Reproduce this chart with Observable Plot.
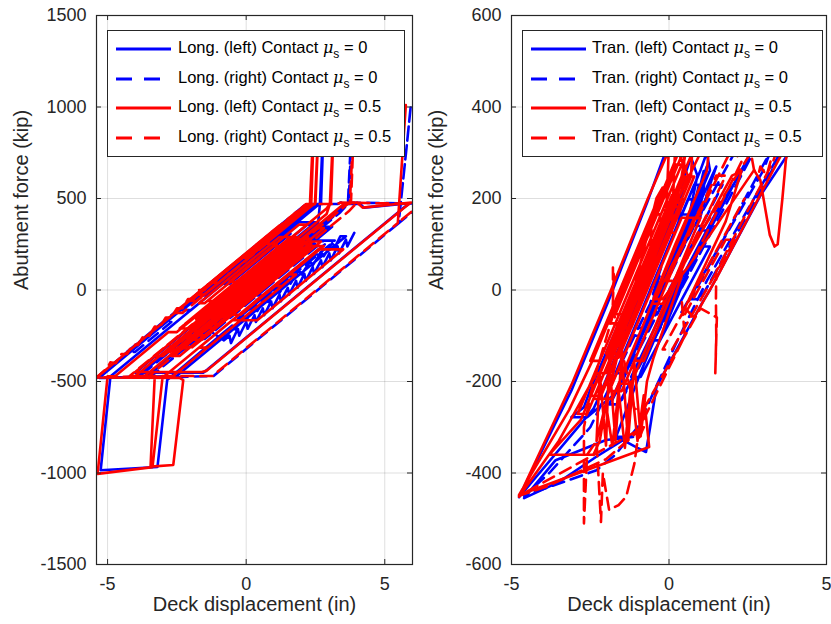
<!DOCTYPE html>
<html>
<head>
<meta charset="utf-8">
<script src="https://cdn.jsdelivr.net/npm/d3@7"></script>
<script src="https://cdn.jsdelivr.net/npm/@observablehq/plot@0.6"></script>
<style>
  body { margin: 0; background: #fff; font-family: "Liberation Sans", Arial, Helvetica, sans-serif; }
  #wrap { position: relative; width: 831px; height: 624px; overflow: hidden; background: #fff; }
  .panel { position: absolute; top: 0; }
  .legend { position: absolute; background: #fff; border: 1px solid #262626; box-sizing: border-box; color: #000; }
  .row { position: absolute; left: 0; height: 30px; width: 100%; }
  .row svg { position: absolute; left: 7px; top: 9px; }
  .row .lbl { position: absolute; top: 3px; font-size: 16.5px; white-space: nowrap; line-height: 20px; }
  .row .lbl i { font-family: "DejaVu Serif", serif; font-size: 16px; }
  .row .lbl sub { font-size: 12px; vertical-align: -5px; line-height: 0; }
</style>
</head>
<body>
<div id="wrap"></div>
<script>
// ---------------- Longitudinal panel (left) ----------------
const longXTicks = [-5, 0, 5];
const longYTicks = [-1500, -1000, -500, 0, 500, 1000, 1500];

// Long. (left) Contact, mu_s = 0  (blue solid)
const longLeftMu0 = [
  [0.1,0],[1.7,200],[2.0,200],[-0.8,-150],[-1.1,-150],[2.1,250],[2.4,250],[-1.4,-225],[-1.8,-225],
  [1.3,162],[1.6,162],[-2.3,-325],[-2.7,-325],[2.6,338],[2.9,338],[-3.56,-470],[-3.9,-470],
  [-1.3,-145],[-1.0,-145],[-2.5,-332],[-2.8,-332],[2.1,280],[2.4,280],[0.3,18],[0.0,18],
  [3.62,470],[4.1,472],[4.25,450],[5.9,474],[5.65,446],[-1.4,-435],[-1.55,-452],[-4.0,-452],
  [-2.0,-202],[-1.7,-202],[-3.0,-365],[-3.3,-365],[1.1,185],[1.4,185],[-0.4,-40],[-0.7,-40],
  [2.6,372],[2.66,470],[2.85,1150],[2.7,478],[2.4,440],[-2.0,-110],[-2.3,-110],[1.0,302],[1.3,302],
  [-3.0,-235],[-4.88,-470],[-4.9,-476],[-5.25,-985],[-3.2,-967],[-2.85,-492],[-0.8,-231],
  [-0.5,-194],[-0.4,-215],[-0.1,-144],[0.0,-165],[0.3,-94],[0.4,-115],[0.7,-44],[0.8,-65],
  [1.1,6],[1.2,-15],[1.5,56],[1.6,35],[1.9,106],[2.0,85],[2.3,156],[2.4,135],[2.7,206],[2.8,185],
  [3.1,256],[3.2,235],[3.4,294],[3.6,294],[0.0,-156],[-0.3,-156],[2.5,194],[2.8,194],[-2.51,-470],
  [-5.3,-480],[2.1,450],[2.5,470],[1.0,282],[0.7,282],[1.8,420],[2.1,420],[-0.5,95],
  [-1.5,-30],[-1.7,-30],[1.0,308],[1.6,308],[-0.6,33],[-0.8,33],[1.9,370],[2.5,370],[0.2,82],
  [0.0,82],[2.2,357],[2.8,357],[0.4,57],[0.2,57],[2.5,345],[3.1,345],[1.0,82],[0.8,82],[2.3,270],
  [-1.5,-205],[-0.8,-275],[-0.6,-250],[-0.55,-290],[-0.3,-212],[-0.25,-250],[0.0,-175],[0.05,-212],
  [0.3,-138],[0.35,-175],[0.6,-100],[0.65,-138],[0.9,-62],[0.95,-100],[1.2,-25],[1.25,-62],
  [1.5,12],[1.55,-25],[1.8,50],[1.85,12],[2.1,88],[2.15,50],[2.4,125],[2.45,88],[2.7,162],[2.75,125],
  [3.0,200],[3.05,162],[3.3,238],[3.35,200],[3.6,275],[3.65,238],[3.9,312]
];

// Long. (right) Contact, mu_s = 0  (blue dashed)
const longRightMu0 = [
  [0.2,0],[1.4,150],[1.7,150],[-0.7,-150],[-1.0,-150],[2.2,250],[2.5,250],[-1.3,-225],[-1.7,-225],
  [1.5,175],[1.8,175],[-2.2,-325],[-2.6,-325],[2.7,338],[3.0,338],[0.5,25],[0.2,25],[3.4,425],
  [3.67,470],[3.88,1150],[3.7,480],[3.45,440],[-1.0,-116],[-1.3,-116],[1.8,271],[2.1,271],
  [-3.83,-470],[-4.5,-478],[-5.4,-480],[-3.0,-175],[-2.7,-175],[-4.0,-338],[-4.3,-338],[0.5,262],
  [0.8,262],[-1.5,-25],[-1.8,-25],[2.16,470],[3.3,470],[3.4,478],[6.35,472],[6.1,440],[5.5,365],
  [5.8,800],[5.94,1010],[5.8,800],[5.5,365],[-0.95,-441],[-1.18,-470],[-3.5,-480],[0.5,20],[0.8,20],
  [-1.5,-268],[-1.8,-268],[2.5,270],[3.0,270],[0.6,-30],[0.4,-30],[2.8,270],[3.2,270],[0.2,-105],
  [0.0,-105],[2.0,145]
];

// Long. (left) Contact, mu_s = 0.5  (red solid)
const longLeftMu05 = [
  [0,0],[1.6,200],[1.9,200],[-0.9,-150],[-1.2,-150],[2.0,250],[2.3,250],[-1.5,-225],[-1.9,-225],
  [1.2,162],[1.5,162],[-2.4,-325],[-2.8,-325],[2.5,338],[2.8,338],[-3.66,-470],[-4.0,-470],
  [-1.4,-145],[-1.1,-145],[-2.6,-332],[-2.9,-332],[2.0,280],[2.3,280],[0.2,17],[-0.1,17],
  [3.52,470],[4.0,478],[4.2,450],[5.95,478],[5.7,450],[-1.44,-442],[-1.6,-448],[-4.0,-448],
  [-2.0,-198],[-1.7,-198],[-3.0,-360],[-3.3,-360],[1.0,178],[1.3,178],[-0.5,-48],[-0.8,-48],
  [2.9,415],[3.02,470],[3.22,1150],[3.06,480],[2.9,445],[-0.3,45],[-0.6,45],[1.9,357],[2.2,357],
  [-2.5,-230],[-2.8,-230],[-4.72,-470],[-5.0,-472],[-5.36,-1005],[-3.38,-968],[-3.02,-480],
  [1.5,85],[1.8,85],[-1.4,-315],[-1.7,-315],[2.6,222],[3.5,222],[0.4,-165],[-0.5,-165],[1.0,22],
  [1.3,22],[-2.64,-470],[-3.3,-475],[-3.45,-965],[-2.63,-956],[-2.27,-492],[-2.4,-480],[-5.4,-478],
  [2.16,467],[2.3,470],[2.5,1150],[2.35,480],[2.1,440],[0.0,176],[-0.1,176],[2.0,439],[2.48,470],
  [2.68,1150],[2.5,475],[2.2,440],[-1.0,40],[-1.3,40],[0.6,277],[0.9,277],[-1.8,-60],[-2.1,-60],
  [1.2,352],[1.5,352],[-0.6,90],[-1.8,-60],[-2.0,-60],[0.5,253],[1.1,253],[-1.5,-72],[-1.7,-72],
  [1.2,290],[1.8,290],[-1.2,-85],[-1.4,-85],[1.5,277],[2.1,277],[-1.0,-110],[-1.2,-110],[1.8,265],
  [2.4,265],[-0.8,-135],[-1.0,-135],[2.2,265],[2.7,265],[-0.6,-148],[-0.8,-148],[2.3,240],[2.8,240],
  [-0.2,-135],[-0.5,-135],[2.0,178],[-1.6,-272],[-2.0,-272],[0.8,78],[1.1,78],[-2.0,-310],[-2.3,-310],
  [-0.5,-85],[-0.2,-85],[-2.4,-360],[-2.7,-360],[0.3,15],[0.6,15],[-1.7,-272],[-2.0,-272],[0.9,90],
  [2.0,228],[2.3,228],[-1.5,-248],[-1.8,-248],[1.0,102],[1.3,102],[-1.0,-185],[-1.4,-185],[1.6,190],
  [1.8,190],[-1.8,-260],[-2.2,-260],[0.8,115],[1.0,115],[-0.8,-110],[-1.2,-110],[1.4,215],[1.6,215],
  [-1.4,-160],[-1.8,-160],[0.6,140],[0.8,140],[-2.0,-210],[-2.4,-210],[0.2,115],[0.4,115],[-1.0,-60],
  [-1.4,-60],[1.0,240],[1.2,240],[-2.2,-185]
];

// Long. (right) Contact, mu_s = 0.5  (red dashed)
const longRightMu05 = [
  [-0.1,0],[1.3,175],[1.6,175],[-1.0,-150],[-1.3,-150],[1.8,238],[2.1,238],[-1.8,-250],[-2.1,-250],
  [0.9,125],[1.2,125],[-2.5,-338],[-2.8,-338],[2.2,288],[3.66,470],[3.74,472],[3.95,1150],[3.78,478],
  [4.0,478],[3.7,430],[-1.0,-158],[-1.3,-158],[1.7,218],[2.0,218],[-3.5,-470],[-5.4,-478],
  [-5.0,-425],[-4.9,-395],[-4.7,-400],[-4.5,-350],[-4.3,-350],[-4.1,-300],[-3.9,-300],[-3.7,-250],
  [-3.5,-250],[-3.3,-200],[-3.1,-200],[-2.9,-150],[-2.7,-150],[-2.5,-100],[-2.3,-100],[-2.1,-50],
  [-1.9,-50],[-1.7,0],[-1.5,0],[-1.3,50],[-1.1,50],[-0.9,88],[-0.6,88],[-2.3,-125],[-2.6,-125],
  [0.5,262],[0.8,262],[-1.5,-25],[-1.8,-25],[2.16,470],[3.3,470],[3.4,478],[6.3,470],[6.1,445],
  [5.47,366],[5.62,700],[5.76,1010],[5.62,700],[5.47,366],[-1.22,-470],[-4.2,-470],[-1.0,-70],
  [-0.7,-70],[-2.6,-308],[-2.9,-308],[1.2,205],[1.5,205],[0.0,18],[-0.3,18],[1.6,255],[2.1,255],
  [-0.6,-82],[-0.8,-82],[1.9,255],[2.4,255],[-0.2,-70],[-0.5,-70],[1.4,168],[1.8,168],[-1.2,-207],
  [-1.5,-207],[0.7,55],[1.0,55],[-2.0,-320],[-2.3,-320],[0.2,-8]
];

// ---------------- Transverse panel (right) ----------------
const tranXTicks = [-5, 0, 5];
const tranYTicks = [-600, -400, -200, 0, 200, 400, 600];

// Tran. (left) Contact, mu_s = 0  (blue solid)
const tranLeftMu0 = [
  [-0.6,0],[0.4,165],[0.7,165],[-0.8,-83],[-1.1,-83],[0.6,198],[0.9,198],[-1.4,-182],[-1.7,-182],
  [0.3,148],[0.5,250],[0.7,290],[0.9,250],[0.6,148],[0.8,200],[0.75,170],[0.95,230],[0.9,200],
  [1.1,260],[1.0,230],[1.2,270],[1.05,200],[0.85,160],[0.95,150],[1.3,230],[1.5,270],[1.3,240],
  [-0.9,-100],[-1.2,-100],[0.8,230],[1.1,230],[-0.2,15],[-0.5,15],[1.0,262],[1.2,300],[1.3,262],
  [0.2,80],[-1.6,-220],[-2.6,-278],[-3.1,-278],[-2.7,-256],[-2.5,-218],[-1.2,-10],[0.1,200],
  [0.5,240],[0.3,190],[-0.9,-10],[-2.2,-230],[-2.4,-260],[-4.76,-453],[-3.1,-220],[-1.9,-20],
  [-0.7,190],[0.2,360],[0.4,400],[2.5,440],[4.55,405],[4.62,415],[4.5,395],[3.71,290],[2.9,206],
  [1.3,0],[1.1,-22],[-0.4,-212],[-0.6,-300],[-0.73,-354],[-1.0,-345],[-1.46,-328],[-2.32,-365],
  [-3.5,-420],[-4.6,-455],[-3.6,-372],[-2.0,-328],[-1.14,-321],[-1.68,-321],[-0.9,-180],[0.2,0],
  [1.5,170],[2.4,270],[2.6,300],[2.2,250],[0.6,40],[-0.3,-110],[-0.5,-110],[1.0,95],[1.3,95],
  [-0.9,-190],[-1.2,-190],[0.4,40],[0.6,40],[-1.6,-250],[-1.9,-250],[-0.44,-40],[-0.3,-5],
  [-0.32,-25],[-0.15,20],[-0.18,5],[0.0,45],[-0.02,25],[0.15,70],[0.12,50],[0.3,95],[0.27,75],
  [0.45,120],[0.42,100],[0.6,145],[0.57,125],[0.75,170],[0.72,150],[0.9,195],[0.87,175],[1.05,220]
];

// Tran. (right) Contact, mu_s = 0  (blue dashed)
const tranRightMu0 = [
  [-0.2,0],[0.8,140],[1.1,140],[-0.3,-40],[-0.6,-40],[1.4,230],[1.7,230],[0.0,0],[-0.3,0],
  [2.0,290],[2.3,320],[2.6,290],[0.6,30],[-0.8,-150],[-1.1,-150],[1.0,130],[1.3,130],[-0.5,-110],
  [-1.5,-240],[-1.8,-240],[-0.4,-50],[-0.5,-20],[-0.3,30],[-0.45,0],[-0.25,50],[-0.6,-30],
  [-2.5,-300],[-3.8,-400],[-4.6,-450],[-2.3,-394],[-1.7,-360],[-1.0,-300],[0.2,-120],[1.2,20],
  [3.45,290],[3.7,320],[3.5,290],[1.0,-20],[0.7,-20],[2.9,262],[3.2,300],[3.0,262],[0.3,-60]
];

// Tran. (left) Contact, mu_s = 0.5  (red solid)
const tranLeftMu05 = [
  [-1.0,0],[0.2,198],[0.5,198],[-1.2,-83],[-1.5,-83],[0.5,248],[0.8,248],[-1.6,-148],[-1.9,-148],
  [-0.1,149],[0.0,320],[0.15,440],[0.2,320],[0.1,149],[-1.5,-115],[-1.8,-115],[0.0,182],[0.3,182],
  [-2.2,-231],[-2.5,-231],[0.4,248],[0.6,330],[0.7,440],[0.75,330],[0.7,248],[-0.9,-17],[-1.2,-17],
  [-0.6,82],[-0.55,145],[-0.45,170],[-0.3,165],[-0.25,140],[-0.4,82],[-2.0,-182],[-2.3,-182],
  [-3.5,-330],[-4.76,-452],[-3.05,-200],[-1.84,0],[-0.67,200],[-0.1,290],[0.2,360],[0.3,420],
  [0.4,360],[0.5,260],[-1.4,-53],[-1.7,-53],[0.6,327],[0.9,327],[-2.8,-284],[-3.8,-360],[-2.4,-360],
  [-2.2,-330],[-2.0,-250],[-1.8,-340],[-1.6,-220],[-1.4,-345],[-1.2,-200],[-1.0,-330],[-0.8,-230],
  [-0.63,-343],[-4.76,-448],[-3.17,-262],[-2.4,-150],[-1.2,50],[0.0,250],[0.3,300],[0.6,250],
  [-0.3,100],[-1.0,-20],[0.3,200],[1.0,300],[1.3,330],[1.2,260],[0.2,100],[-0.5,-20],[-0.2,-20],
  [0.6,50],[2.7,262],[2.9,240],[3.0,200],[3.2,120],[3.35,95],[3.45,100],[3.6,200],[3.71,284],
  [3.85,330],[3.6,300],[1.5,25],[0.8,-60],[0.5,-40],[1.8,150],[2.3,260],[2.0,250],[0.5,60],
  [-0.8,-155],[-1.1,-155],[0.8,158],[1.0,158],[-1.2,-205],[-1.6,-205],[0.6,158],[0.8,158],
  [-1.5,-221],[-1.9,-221],[0.4,158],[0.6,158],[-1.8,-238],[-2.2,-238],[0.0,125],[0.2,125],
  [-2.0,-238],[-2.4,-238],[0.2,191],[0.4,191],[-1.6,-139],[-2.0,-139],[0.1,208],[0.3,208],
  [-2.6,-271],[-2.9,-271],[-0.2,175],[0.0,175],[-1.5,-73],[-1.9,-73],[0.2,274],[0.4,274],
  [-2.2,-155],[-2.5,-155],[-0.2,224],[-0.4,200],[-2.3,-330],[-2.2,-180],[-2.0,-340],[-1.9,-150],
  [-1.7,-330],[-1.5,-140],[-1.3,-330],[-1.1,-160],[-0.9,-320],[-0.7,-200],[-0.5,-150],[0.4,30]
];

// Tran. (right) Contact, mu_s = 0.5  (red dashed)
const tranRightMu05 = [
  [-0.3,0],[0.9,165],[1.2,165],[-0.2,-30],[-0.5,-30],[1.5,250],[1.8,250],[0.2,20],[-0.1,20],
  [2.0,310],[2.3,280],[0.8,70],[0.5,70],[2.6,300],[2.7,262],[2.85,255],[2.9,270],[3.1,250],
  [3.3,300],[3.5,320],[3.3,280],[1.5,40],[1.49,-20],[1.5,-100],[1.47,-182],[1.52,-60],[1.0,-40],
  [-0.8,-260],[-1.1,-260],[-1.78,-40],[-1.78,50],[-1.75,30],[-1.8,-60],[-2.4,-200],[-2.7,-300],
  [-2.7,-510],[-2.6,-360],[-2.3,-330],[-2.16,-507],[-2.1,-400],[-1.9,-481],[-1.6,-470],[-1.36,-452],
  [-1.1,-380],[-1.0,-330],[-0.8,-300],[-4.76,-450],[-3.9,-430],[-2.0,-370],[-1.0,-310],[0.0,-170],
  [0.5,-100],[0.4,-20],[0.45,-60],[1.8,110],[2.1,110],[0.1,-130],[-0.2,-130],[2.4,200]
];

const BLUE = "#0000ff", RED = "#ff0000";

const longSeries = [
  {label: "Long. (left) Contact", mu: "0", color: BLUE, dashed: false, data: longLeftMu0},
  {label: "Long. (right) Contact", mu: "0", color: BLUE, dashed: true, data: longRightMu0},
  {label: "Long. (left) Contact", mu: "0.5", color: RED, dashed: false, data: longLeftMu05},
  {label: "Long. (right) Contact", mu: "0.5", color: RED, dashed: true, data: longRightMu05}
];
const tranSeries = [
  {label: "Tran. (left) Contact", mu: "0", color: BLUE, dashed: false, data: tranLeftMu0},
  {label: "Tran. (right) Contact", mu: "0", color: BLUE, dashed: true, data: tranRightMu0},
  {label: "Tran. (left) Contact", mu: "0.5", color: RED, dashed: false, data: tranLeftMu05},
  {label: "Tran. (right) Contact", mu: "0.5", color: RED, dashed: true, data: tranRightMu05}
];

const H = 624, MT = 15, MB = 60, ML = 96;
const FRAME_H = H - MT - MB;
const INK = "#262626";

function panel({series, xDomain, yDomain, xTicks, yTicks, width, marginRight}) {
  const frameW = width - ML - marginRight;
  const marks = [
    Plot.gridX(xTicks, {stroke: "#000", strokeOpacity: 0.13, strokeWidth: 1}),
    Plot.gridY(yTicks, {stroke: "#000", strokeOpacity: 0.13, strokeWidth: 1})
  ];
  for (const s of series) {
    marks.push(Plot.line(s.data, {
      x: d => d[0], y: d => d[1], stroke: s.color, strokeWidth: 2.6,
      strokeDasharray: s.dashed ? "12,7" : null, strokeLinejoin: "round", clip: true
    }));
  }
  marks.push(
    Plot.tickX(xTicks, {x: d => d, insetTop: FRAME_H - 5, stroke: INK}),
    Plot.tickX(xTicks, {x: d => d, insetBottom: FRAME_H - 5, stroke: INK}),
    Plot.tickY(yTicks, {y: d => d, insetRight: frameW - 5, stroke: INK}),
    Plot.tickY(yTicks, {y: d => d, insetLeft: frameW - 5, stroke: INK}),
    Plot.frame({stroke: INK, strokeWidth: 1.2}),
    Plot.text(["Deck displacement (in)"], {frameAnchor: "bottom", dy: 46, fontSize: 20, fill: INK, text: d => d}),
    Plot.text(["Abutment force (kip)"], {frameAnchor: "left", dx: -75, rotate: -90, fontSize: 20, fill: INK, text: d => d})
  );
  return Plot.plot({
    width, height: H, marginLeft: ML, marginRight, marginTop: MT, marginBottom: MB,
    x: {domain: xDomain, ticks: xTicks, tickSize: 0, tickPadding: 13, label: null, tickFormat: d => String(d)},
    y: {domain: yDomain, ticks: yTicks, tickSize: 0, tickPadding: 10, label: null, tickFormat: d => String(d)},
    style: {fontFamily: "Liberation Sans, Arial, Helvetica, sans-serif", fontSize: "18px", color: INK, background: "transparent", overflow: "visible"},
    marks
  });
}

function legend(series, box, textLeft) {
  const div = document.createElement("div");
  div.className = "legend";
  Object.assign(div.style, {left: box.left + "px", top: box.top + "px", width: box.width + "px", height: box.height + "px"});
  series.forEach((s, i) => {
    const row = document.createElement("div");
    row.className = "row";
    row.style.top = (3 + i * 29.7) + "px";
    const svg = d3.create("svg").attr("width", 58).attr("height", 12);
    svg.append("line").attr("x1", 1).attr("x2", 56).attr("y1", 6).attr("y2", 6)
      .attr("stroke", s.color).attr("stroke-width", 2.8)
      .attr("stroke-dasharray", s.dashed ? "16,12" : null);
    row.appendChild(svg.node());
    const lbl = document.createElement("div");
    lbl.className = "lbl";
    lbl.style.left = textLeft + "px";
    lbl.innerHTML = `${s.label} <i>μ</i><sub>s</sub> = ${s.mu}`;
    row.appendChild(lbl);
    div.appendChild(row);
  });
  return div;
}

const wrap = document.getElementById("wrap");

const left = document.createElement("div");
left.className = "panel"; left.style.left = "0px";
left.appendChild(panel({series: longSeries, xDomain: [-5.4, 6], yDomain: [-1500, 1500],
  xTicks: longXTicks, yTicks: longYTicks, width: 415, marginRight: 3}));
wrap.appendChild(left);

const right = document.createElement("div");
right.className = "panel"; right.style.left = "415px";
right.appendChild(panel({series: tranSeries, xDomain: [-5, 5], yDomain: [-600, 600],
  xTicks: tranXTicks, yTicks: tranYTicks, width: 416, marginRight: 5}));
wrap.appendChild(right);

wrap.appendChild(legend(longSeries, {left: 107, top: 30, width: 298, height: 127}, 70));
wrap.appendChild(legend(tranSeries, {left: 522, top: 30, width: 301, height: 127}, 69));
</script>
</body>
</html>
